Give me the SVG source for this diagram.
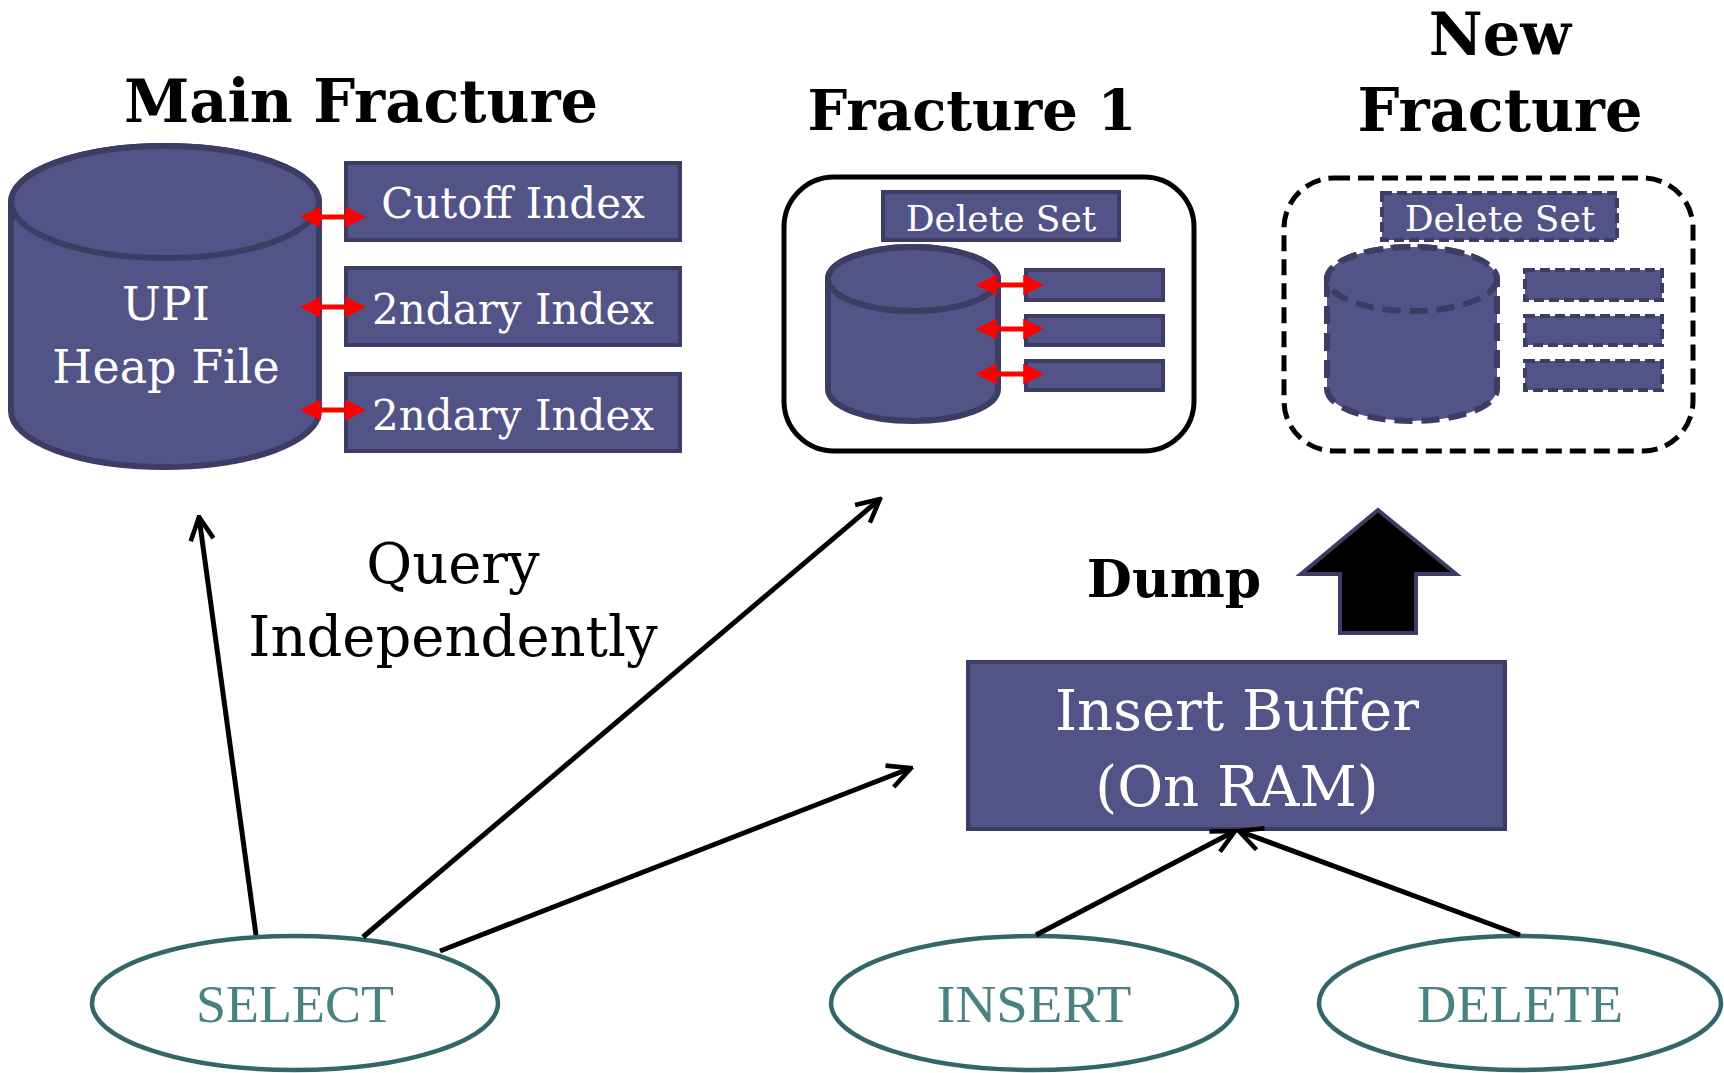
<svg xmlns="http://www.w3.org/2000/svg" width="1724" height="1073" viewBox="0 0 1724 1073">
<defs>
<style>
.t{font-family:"DejaVu Serif","Liberation Serif",serif;}
.title{font-family:"DejaVu Serif","Liberation Serif",serif;font-weight:bold;fill:#000;text-anchor:middle;}
.box{fill:#525387;stroke:#3C3C64;stroke-width:4;}
.dbox{fill:#525387;stroke:#3C3C64;stroke-width:4;stroke-dasharray:10 5;}
.cyl{fill:#525387;stroke:#3C3C64;stroke-width:6;}
.dcyl{fill:#525387;stroke:#3C3C64;stroke-width:6;stroke-dasharray:18 9;}
.wt{font-family:"DejaVu Serif","Liberation Serif",serif;fill:#fff;text-anchor:middle;}
.red{stroke:#FF0000;stroke-width:5;fill:none;marker-start:url(#ra);marker-end:url(#ra);}
.conn{stroke:#000;stroke-width:5;fill:none;marker-end:url(#oa);}
.ell{fill:#fff;stroke:#336666;stroke-width:4.5;}
.et{font-family:"Liberation Serif",serif;font-size:52px;fill:#4A8282;text-anchor:middle;}
</style>
<marker id="ra" viewBox="0 0 10 10" refX="8" refY="5" markerWidth="4.2" markerHeight="4.2" orient="auto-start-reverse" markerUnits="strokeWidth">
<path d="M0,0 L10,5 L0,10 z" fill="#FF0000"/>
</marker>
<marker id="oa" viewBox="0 0 12 12" refX="11" refY="6" markerWidth="5.5" markerHeight="5.5" orient="auto" markerUnits="strokeWidth">
<path d="M1,1 L11,6 L1,11" fill="none" stroke="#000" stroke-width="2"/>
</marker>
</defs>
<rect width="1724" height="1073" fill="#fff"/>

<g id="main-fracture">
<text class="title" x="361" y="122" font-size="59">Main Fracture</text>
<path class="cyl" d="M11,202 L11,411 A154,56 0 0 0 319,411 L319,202 A154,56 0 0 0 11,202 Z"/>
<ellipse class="cyl" cx="165" cy="202" rx="154" ry="56"/>
<text class="wt" x="166" y="320" font-size="46">UPI</text>
<text class="wt" x="166" y="383" font-size="46">Heap File</text>
<rect class="box" x="346" y="163" width="334" height="77"/>
<text class="wt" x="513" y="218" font-size="42">Cutoff Index</text>
<rect class="box" x="346" y="268" width="334" height="77"/>
<text class="wt" x="513" y="324" font-size="42">2ndary Index</text>
<rect class="box" x="346" y="374" width="334" height="77"/>
<text class="wt" x="513" y="430" font-size="42">2ndary Index</text>
<line class="red" x1="304" y1="217" x2="362" y2="217"/>
<line class="red" x1="304" y1="307" x2="362" y2="307"/>
<line class="red" x1="304" y1="410" x2="362" y2="410"/>
</g>

<g id="fracture-1">
<text class="title" x="972" y="130" font-size="56">Fracture 1</text>
<rect x="784" y="177" width="410" height="274" rx="50" fill="#fff" stroke="#000" stroke-width="5"/>
<rect class="box" x="883" y="192" width="236" height="48"/>
<text class="wt" x="1001" y="231" font-size="36">Delete Set</text>
<path class="cyl" d="M828,279 L828,389 A85,32 0 0 0 998,389 L998,279 A85,32 0 0 0 828,279 Z"/>
<ellipse class="cyl" cx="913" cy="279" rx="85" ry="32"/>
<rect class="box" x="1026" y="270" width="137" height="30"/>
<rect class="box" x="1026" y="316" width="137" height="29"/>
<rect class="box" x="1026" y="361" width="137" height="29"/>
<line class="red" x1="980" y1="285" x2="1040" y2="285"/>
<line class="red" x1="980" y1="329" x2="1040" y2="329"/>
<line class="red" x1="980" y1="374" x2="1040" y2="374"/>
</g>

<g id="new-fracture">
<text class="title" x="1500" y="55" font-size="59">New</text>
<text class="title" x="1500" y="131" font-size="59">Fracture</text>
<rect x="1284" y="178" width="409" height="273" rx="50" fill="#fff" stroke="#000" stroke-width="5" stroke-dasharray="16 8"/>
<rect class="dbox" x="1382" y="193" width="235" height="47"/>
<text class="wt" x="1500" y="231" font-size="36">Delete Set</text>
<path class="dcyl" d="M1327,279 L1327,389 A85,32 0 0 0 1497,389 L1497,279 A85,32 0 0 0 1327,279 Z"/>
<ellipse class="dcyl" cx="1412" cy="279" rx="85" ry="32"/>
<rect class="dbox" x="1525" y="270" width="137" height="30"/>
<rect class="dbox" x="1525" y="316" width="137" height="29"/>
<rect class="dbox" x="1525" y="361" width="137" height="29"/>
</g>

<g id="dump">
<text class="title" x="1174" y="597" font-size="52">Dump</text>
<path d="M1378,510 L1456,574 L1416,574 L1416,633 L1340,633 L1340,574 L1301,574 Z" fill="#000" stroke="#3C3C64" stroke-width="4"/>
</g>

<g id="insert-buffer">
<rect class="box" x="968" y="662" width="537" height="167"/>
<text class="wt" x="1237" y="730" font-size="56">Insert Buffer</text>
<text class="wt" x="1237" y="806" font-size="56">(On RAM)</text>
</g>

<g id="query-label">
<text class="t" x="453" y="583" font-size="56" text-anchor="middle">Query</text>
<text class="t" x="453" y="656" font-size="56" text-anchor="middle">Independently</text>
</g>

<g id="select">
<ellipse class="ell" cx="295" cy="1003" rx="203" ry="67"/>
<text class="et" x="295" y="1022" textLength="198" lengthAdjust="spacingAndGlyphs">SELECT</text>
</g>
<g id="insert">
<ellipse class="ell" cx="1034" cy="1003" rx="203" ry="67"/>
<text class="et" x="1034" y="1022" textLength="195" lengthAdjust="spacingAndGlyphs">INSERT</text>
</g>
<g id="delete">
<ellipse class="ell" cx="1520" cy="1003" rx="201" ry="67"/>
<text class="et" x="1520" y="1022" textLength="206" lengthAdjust="spacingAndGlyphs">DELETE</text>
</g>

<g id="connectors">
<line class="conn" x1="256" y1="935" x2="199" y2="517"/>
<line class="conn" x1="363" y1="937" x2="880" y2="499"/>
<line class="conn" x1="440" y1="951" x2="911" y2="768"/>
<line class="conn" x1="1036" y1="935" x2="1235" y2="831"/>
<line class="conn" x1="1520" y1="935" x2="1239" y2="831"/>
</g>
</svg>
